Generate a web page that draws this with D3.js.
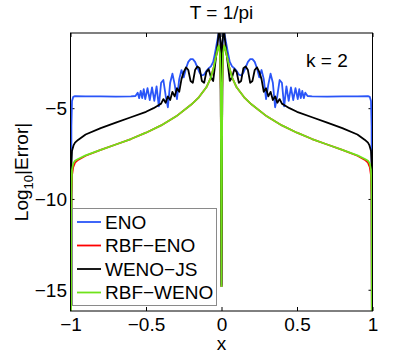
<!DOCTYPE html>
<html>
<head>
<meta charset="utf-8">
<script src="https://cdn.jsdelivr.net/npm/d3@7"></script>
<style>
  body { margin: 0; background: #fff; }
  svg text { font-family: "Liberation Sans", Arial, sans-serif; fill: #000; }
</style>
</head>
<body>
<div id="chart"></div>
<script>
// data (log10 of the error)
var enoX = [-0.996, -0.994, -0.99, -0.982, -0.97, -0.9, -0.8, -0.7, -0.6, -0.57, -0.555, -0.545, -0.535, -0.525, -0.515, -0.505, -0.49, -0.475, -0.46, -0.445, -0.43, -0.415, -0.4, -0.385, -0.37, -0.355, -0.34, -0.325, -0.31, -0.295, -0.28, -0.265, -0.25, -0.235, -0.22, -0.205, -0.19, -0.175, -0.16, -0.145, -0.13, -0.115, -0.1, -0.085, -0.07, -0.055, -0.045, -0.035, -0.025, -0.018, -0.012, -0.006, 0,
    0.006, 0.012, 0.018, 0.025, 0.035, 0.045, 0.055, 0.07, 0.085, 0.1, 0.115, 0.13, 0.145, 0.16, 0.175, 0.19, 0.205, 0.22, 0.235, 0.25, 0.265, 0.28, 0.295, 0.31, 0.325, 0.34, 0.355, 0.37, 0.385, 0.4, 0.415, 0.43, 0.445, 0.46, 0.475, 0.49, 0.505, 0.515, 0.525, 0.535, 0.545, 0.555, 0.57, 0.6, 0.7, 0.8, 0.9, 0.97, 0.982, 0.99, 0.994, 0.996];
var enoY = [-17, -6, -4.6, -4.38, -4.34, -4.35, -4.35, -4.36, -4.35, -4.33, -4.15, -4.45, -4.05, -4.45, -3.95, -4.5, -3.9, -4.55, -3.85, -4.6, -3.8, -4.9, -3.6, -3.45, -4.3, -4.95, -3.6, -3.1, -3.7, -4.5, -3.4, -2.9, -3.3, -2.8, -2.45, -2.3, -2.3, -2.45, -2.75, -3.05, -3.2, -3.15, -2.95, -2.8, -2.7, -2.45, -2.05, -1.6, -1.15, -0.8, -0.85, -1.6, -14.7,
    -1.6, -0.85, -0.8, -1.15, -1.6, -2.05, -2.45, -2.7, -2.8, -2.95, -3.15, -3.2, -3.05, -2.75, -2.45, -2.3, -2.3, -2.45, -2.8, -3.3, -2.9, -3.4, -4.5, -3.7, -3.1, -3.6, -4.95, -4.3, -3.45, -3.6, -4.9, -3.8, -4.6, -3.85, -4.55, -3.9, -4.5, -3.95, -4.45, -4.05, -4.45, -4.15, -4.33, -4.35, -4.36, -4.35, -4.35, -4.34, -4.38, -4.6, -6, -17];

var wenoX = [-0.996, -0.994, -0.99, -0.98, -0.97, -0.95, -0.9, -0.8, -0.7, -0.6, -0.5, -0.45, -0.42, -0.4, -0.385, -0.37, -0.355, -0.34, -0.325, -0.31, -0.295, -0.28, -0.265, -0.25, -0.235, -0.22, -0.205, -0.19, -0.175, -0.16, -0.145, -0.13, -0.115, -0.1, -0.085, -0.07, -0.055, -0.045, -0.035, -0.025, -0.018, -0.012, -0.006, 0,
    0.006, 0.012, 0.018, 0.025, 0.035, 0.045, 0.055, 0.07, 0.085, 0.1, 0.115, 0.13, 0.145, 0.16, 0.175, 0.19, 0.205, 0.22, 0.235, 0.25, 0.265, 0.28, 0.295, 0.31, 0.325, 0.34, 0.355, 0.37, 0.385, 0.4, 0.42, 0.45, 0.5, 0.6, 0.7, 0.8, 0.9, 0.95, 0.97, 0.98, 0.99, 0.994, 0.996];
var wenoY = [-17, -8, -7.35, -7.05, -6.9, -6.75, -6.45, -6.1, -5.8, -5.5, -5.2, -5, -4.85, -4.75, -4.5, -4.7, -4.35, -4.55, -4.1, -4.35, -3.9, -4.1, -3.4, -3, -2.75, -2.9, -3.5, -3.6, -2.9, -2.7, -2.8, -3.5, -3.6, -3, -2.85, -3.3, -3.5, -2.8, -2.1, -1.4, -0.8, -0.85, -1.4, -14.8,
    -1.4, -0.85, -0.8, -1.4, -2.1, -2.8, -3.5, -3.3, -2.85, -3, -3.6, -3.5, -2.8, -2.7, -2.9, -3.6, -3.5, -2.9, -2.75, -3, -3.4, -4.1, -3.9, -4.35, -4.1, -4.55, -4.35, -4.7, -4.5, -4.75, -4.85, -5, -5.2, -5.5, -5.8, -6.1, -6.45, -6.75, -6.9, -7.05, -7.35, -8, -17];

var rbfX = [-0.996, -0.994, -0.99, -0.982, -0.97, -0.95, -0.9, -0.8, -0.7, -0.6, -0.5, -0.4, -0.3, -0.2, -0.15, -0.1, -0.07, -0.05, -0.035, -0.025, -0.018, -0.01, -0.005, 0,
    0.005, 0.01, 0.018, 0.025, 0.035, 0.05, 0.07, 0.1, 0.15, 0.2, 0.3, 0.4, 0.5, 0.6, 0.7, 0.8, 0.9, 0.95, 0.97, 0.982, 0.99, 0.994, 0.996];
var rbfEnoY = [-17, -9.8, -8.7, -8.25, -8, -7.85, -7.62, -7.3, -7, -6.7, -6.35, -5.95, -5.45, -4.8, -4.4, -3.85, -3.3, -2.7, -2.1, -1.7, -1.55, -2, -4, -14.8,
    -4, -2, -1.55, -1.7, -2.1, -2.7, -3.3, -3.85, -4.4, -4.8, -5.45, -5.95, -6.35, -6.7, -7, -7.3, -7.62, -7.85, -8, -8.25, -8.7, -9.8, -17];
var rbfWenoY = [-17, -9.5, -8.4, -8.05, -7.9, -7.8, -7.6, -7.3, -7, -6.7, -6.35, -5.95, -5.45, -4.8, -4.4, -3.85, -3.3, -2.7, -2.1, -1.7, -1.55, -2, -4, -14.8,
    -4, -2, -1.55, -1.7, -2.1, -2.7, -3.3, -3.85, -4.4, -4.8, -5.45, -5.95, -6.35, -6.7, -7, -7.3, -7.6, -7.8, -7.9, -8.05, -8.4, -9.5, -17];

var xTicks = [-1, -0.5, 0, 0.5, 1];
var yTicks = [-15, -10, -5];
var legendNames = ["ENO", "RBF\u2212ENO", "WENO\u2212JS", "RBF\u2212WENO"];

var series = [
    { name: legendNames[0], xs: enoX, ys: enoY, color: "#2a55f8" },
    { name: legendNames[1], xs: rbfX, ys: rbfEnoY, color: "#ff0000" },
    { name: legendNames[2], xs: wenoX, ys: wenoY, color: "#000000" },
    { name: legendNames[3], xs: rbfX, ys: rbfWenoY, color: "#6fe31a" }
];

var W = 412, H = 355;
// plot box in pixels (window.top is reserved, so no bare "top")
var pL = 70.5, pR = 372.5, pT = 33, pB = 311;

var x = d3.scaleLinear().domain([-1, 1]).range([pL, pR]);
var y = d3.scaleLinear().domain([-16.17, -0.86]).range([pB, pT]);

var svg = d3.select("#chart").append("svg")
    .attr("width", W)
    .attr("height", H);

svg.append("clipPath").attr("id", "plotclip")
    .append("rect")
    .attr("x", pL).attr("y", pT)
    .attr("width", pR - pL).attr("height", pB - pT);

var fmt = function(d) { return String(d).replace("-", "\u2212"); };

// ticks pointing inward, on all four sides
svg.append("g")
    .attr("transform", "translate(0," + pB + ")")
    .call(d3.axisBottom(x).tickValues(xTicks).tickSize(-4).tickFormat(fmt))
    .call(function(g) {
        g.select(".domain").remove();
        g.selectAll("line").attr("stroke", "#000");
        g.selectAll("text").attr("font-size", 19).attr("dy", 0).attr("y", 20);
    });
svg.append("g")
    .attr("transform", "translate(0," + pT + ")")
    .call(d3.axisTop(x).tickValues(xTicks).tickSize(-4).tickFormat(""))
    .call(function(g) { g.select(".domain").remove(); g.selectAll("line").attr("stroke", "#000"); });
svg.append("g")
    .attr("transform", "translate(" + pL + ",0)")
    .call(d3.axisLeft(y).tickValues(yTicks).tickSize(-4).tickFormat(fmt))
    .call(function(g) {
        g.select(".domain").remove();
        g.selectAll("line").attr("stroke", "#000");
        g.selectAll("text").attr("font-size", 19).attr("dy", "0.35em").attr("x", -3.5);
    });
svg.append("g")
    .attr("transform", "translate(" + pR + ",0)")
    .call(d3.axisRight(y).tickValues(yTicks).tickSize(-4).tickFormat(""))
    .call(function(g) { g.select(".domain").remove(); g.selectAll("line").attr("stroke", "#000"); });

var plot = svg.append("g").attr("clip-path", "url(#plotclip)");

var line = d3.line()
    .x(function(d) { return x(d[0]); })
    .y(function(d) { return y(d[1]); });

series.forEach(function(s) {
    var pts = s.xs.map(function(v, i) { return [v, s.ys[i]]; });
    plot.append("path")
        .datum(pts)
        .attr("fill", "none")
        .attr("stroke", s.color)
        .attr("stroke-width", 1.8)
        .attr("stroke-linejoin", "round")
        .attr("d", line);
});

// axes box
svg.append("rect")
    .attr("x", pL).attr("y", pT)
    .attr("width", pR - pL).attr("height", pB - pT)
    .attr("fill", "none")
    .attr("stroke", "#000")
    .attr("stroke-width", 1);

// legend
var lg = svg.append("g");
lg.append("rect")
    .attr("x", 72.5).attr("y", 208.5)
    .attr("width", 144).attr("height", 97)
    .attr("fill", "#fff")
    .attr("stroke", "#8a8a8a")
    .attr("stroke-width", 1);
series.forEach(function(s, i) {
    var by = 228.5 + i * 23.5;
    lg.append("line")
        .attr("x1", 77).attr("x2", 101)
        .attr("y1", by - 6.5).attr("y2", by - 6.5)
        .attr("stroke", s.color).attr("stroke-width", 1.8);
    lg.append("text")
        .attr("x", 105).attr("y", by)
        .attr("font-size", 19)
        .text(s.name);
});

svg.append("text")
    .attr("x", 306).attr("y", 66.5)
    .attr("font-size", 19)
    .text("k = 2");

svg.append("text")
    .attr("x", 221.5).attr("y", 18.5)
    .attr("text-anchor", "middle")
    .attr("font-size", 19)
    .text("T = 1/pi");

svg.append("text")
    .attr("x", 221.5).attr("y", 350)
    .attr("text-anchor", "middle")
    .attr("font-size", 19)
    .text("x");

var yl = svg.append("text")
    .attr("transform", "translate(28,172) rotate(-90)")
    .attr("text-anchor", "middle")
    .attr("font-size", 19);
yl.append("tspan").text("Log");
yl.append("tspan").attr("font-size", 13).attr("dy", 5).text("10");
yl.append("tspan").attr("dy", -5).text("|Error|");
</script>
</body>
</html>
